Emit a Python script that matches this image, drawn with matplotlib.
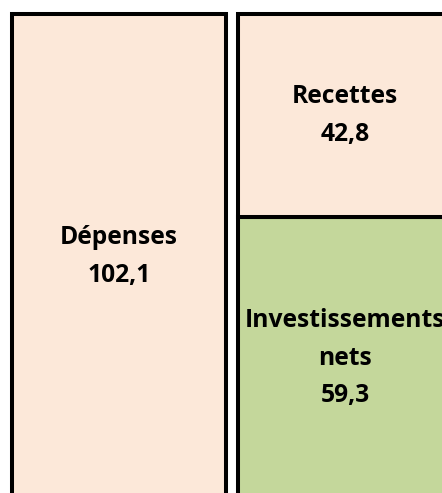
import matplotlib
matplotlib.use("Agg")
import matplotlib.pyplot as plt

# Chart data
categories = ["Dépenses", "Financement"]
depenses = [102.1, 0]
investissements = [0, 59.3]
recettes = [0, 42.8]
labels_dep = ["Dépenses", "102,1"]
labels_inv = ["Investissements", "nets", "59,3"]
labels_rec = ["Recettes", "42,8"]

peach = "#FCE8D9"
green = "#C4D79B"

fig = plt.figure(figsize=(4.42, 4.93), dpi=100)
ax = fig.add_axes([0, 0, 1, 1])
ax.set_xlim(-0.527, 1.429)
ax.set_ylim(1.26, 105.05)
ax.axis("off")

# bars run off the bottom and right edges of the figure, like the original
width = 0.947
edge = dict(edgecolor="black", linewidth=2.9, joinstyle="miter", clip_on=False)

ax.bar(0, depenses[0], width=width, color=peach, **edge)
ax.bar(1, investissements[1], width=width, color=green, **edge)
ax.bar(1, recettes[1], bottom=investissements[1], width=width, color=peach, **edge)

font = dict(family=["Open Sans", "DejaVu Sans"], fontweight="bold", fontsize=17.7,
            ha="center", va="center", linespacing=1.67)
ax.text(0, depenses[0] / 2, "\n".join(labels_dep), **font)
ax.text(1, investissements[1] / 2, "\n".join(labels_inv), **font)
ax.text(1, investissements[1] + recettes[1] / 2, "\n".join(labels_rec), **font)

fig.savefig("out.png", dpi=100)
